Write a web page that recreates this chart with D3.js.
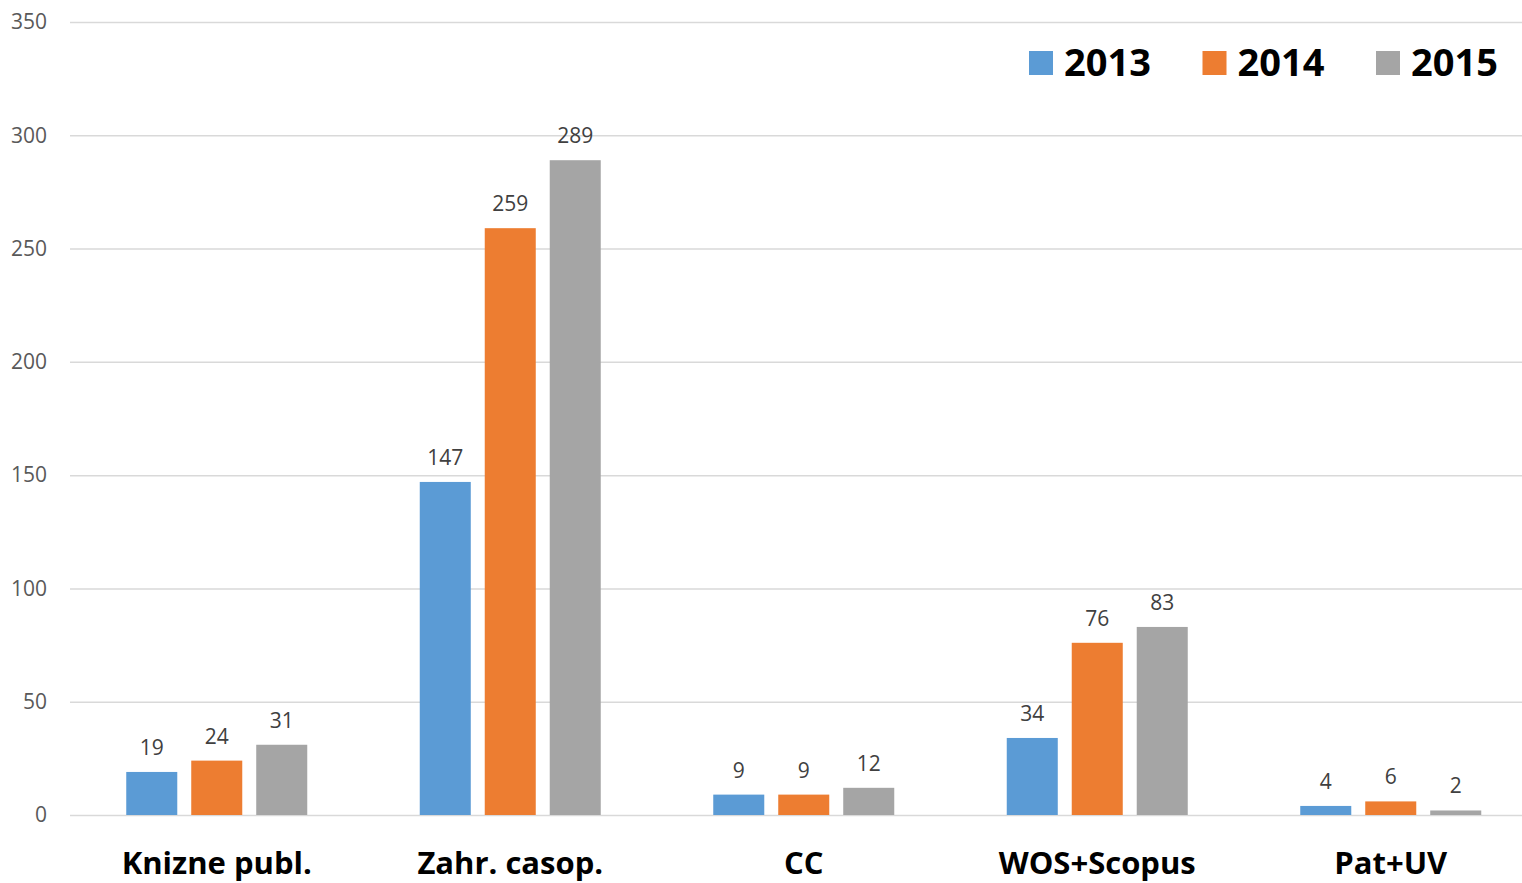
<!DOCTYPE html>
<html>
<head>
<meta charset="utf-8">
<script src="https://cdn.jsdelivr.net/npm/d3@7"></script>
<style>
  body { margin: 0; background: #fff; }
  svg { display: block; font-family: "Open Sans", sans-serif; }
</style>
</head>
<body>
<svg id="chart" width="1522" height="883"></svg>
<script>
  var categories = ['Knizne publ.', 'Zahr. casop.', 'CC', 'WOS+Scopus', 'Pat+UV'];
  var years = ['2013', '2014', '2015'];
  var values2013 = [19, 147, 9, 34, 4];
  var values2014 = [24, 259, 9, 76, 6];
  var values2015 = [31, 289, 12, 83, 2];
  var yTicks = [0, 50, 100, 150, 200, 250, 300, 350];
  var colors = ['#5b9bd5', '#ed7d31', '#a5a5a5'];

  var series = [values2013, values2014, values2015];

  var svg = d3.select('#chart');

  var x0 = d3.scaleBand()
      .domain(categories)
      .range([70, 1537.5])
      .padding(0);

  var groupWidth = 181;
  var x1 = d3.scaleBand()
      .domain(years)
      .range([(x0.bandwidth() - groupWidth) / 2, (x0.bandwidth() + groupWidth) / 2])
      .paddingInner(0.215)
      .paddingOuter(0);

  var y = d3.scaleLinear()
      .domain([0, 350])
      .range([815, 22]);

  // gridlines
  svg.append('g')
      .selectAll('line')
      .data(yTicks)
      .enter().append('line')
        .attr('x1', 70)
        .attr('x2', 1522)
        .attr('y1', function (d) { return y(d) + 0.5; })
        .attr('y2', function (d) { return y(d) + 0.5; })
        .attr('stroke', '#d9d9d9')
        .attr('stroke-width', 1.5);

  // y axis labels
  var yAxis = d3.axisLeft(y)
      .tickValues(yTicks)
      .tickSize(0)
      .tickPadding(0);

  var yAxisGroup = svg.append('g')
      .attr('transform', 'translate(47,0)')
      .call(yAxis);
  yAxisGroup.select('.domain').remove();
  yAxisGroup.selectAll('text')
      .attr('font-family', '"Open Sans", sans-serif')
      .attr('font-size', 21)
      .attr('fill', '#595959');

  // bars
  var groups = svg.append('g')
      .selectAll('g')
      .data(categories)
      .enter().append('g')
        .attr('transform', function (d) { return 'translate(' + x0(d) + ',0)'; });

  groups.selectAll('rect')
      .data(function (d, i) {
        return years.map(function (yr, j) { return {year: yr, value: series[j][i], k: j}; });
      })
      .enter().append('rect')
        .attr('x', function (d) { return x1(d.year); })
        .attr('width', x1.bandwidth())
        .attr('y', function (d) { return y(d.value); })
        .attr('height', function (d) { return y(0) - y(d.value); })
        .attr('fill', function (d) { return colors[d.k]; });

  groups.selectAll('text.val')
      .data(function (d, i) {
        return years.map(function (yr, j) { return {year: yr, value: series[j][i]}; });
      })
      .enter().append('text')
        .attr('class', 'val')
        .attr('x', function (d) { return x1(d.year) + x1.bandwidth() / 2; })
        .attr('y', function (d) { return y(d.value) - 17; })
        .attr('text-anchor', 'middle')
        .attr('font-size', 21)
        .attr('fill', '#404040')
        .text(function (d) { return d.value; });

  // x axis labels
  var xAxis = d3.axisBottom(x0).tickSize(0).tickPadding(0);
  var xAxisGroup = svg.append('g')
      .attr('transform', 'translate(0,' + 852 + ')')
      .call(xAxis);
  xAxisGroup.select('.domain').remove();
  xAxisGroup.selectAll('text')
      .attr('font-family', '"Open Sans", sans-serif')
      .attr('font-size', 31)
      .attr('font-weight', 'bold')
      .attr('fill', '#000')
      .attr('dy', '0.71em');

  // legend
  var legend = svg.append('g')
      .selectAll('g')
      .data(years)
      .enter().append('g')
        .attr('transform', function (d, i) { return 'translate(' + (1029 + i * 173.5) + ',51)'; });

  legend.append('rect')
      .attr('width', 24)
      .attr('height', 24)
      .attr('fill', function (d, i) { return colors[i]; });

  legend.append('text')
      .attr('x', 35)
      .attr('y', 25)
      .attr('font-size', 38)
      .attr('font-weight', 'bold')
      .attr('fill', '#000')
      .text(function (d) { return d; });
</script>
</body>
</html>
